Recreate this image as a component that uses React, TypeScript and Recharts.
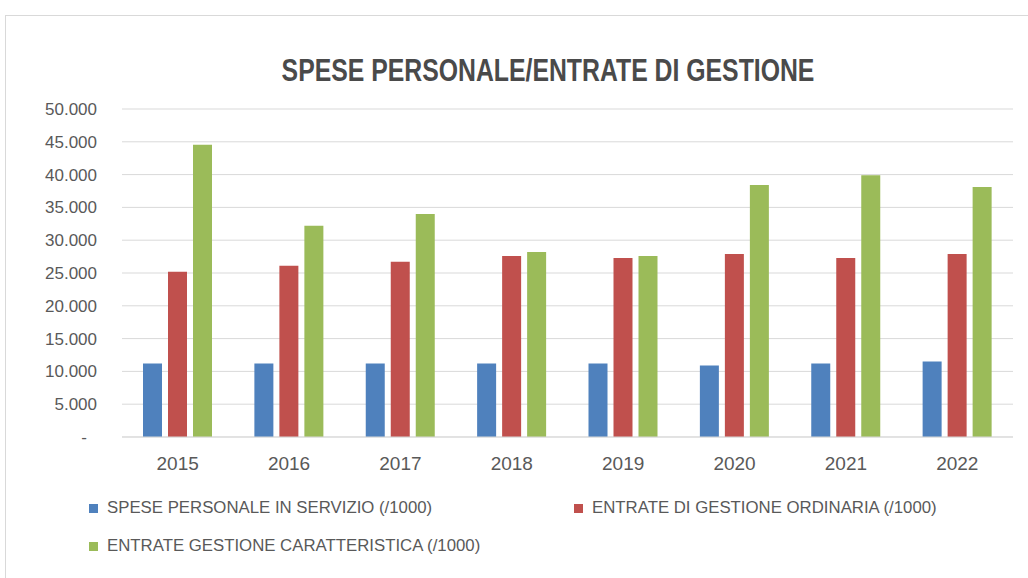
import { BarChart, Bar, XAxis, YAxis, CartesianGrid, Legend } from "recharts";

const years = ["2015", "2016", "2017", "2018", "2019", "2020", "2021", "2022"];
const spesePersonale = [11200, 11200, 11200, 11200, 11200, 10900, 11200, 11500];
const entrateOrdinaria = [25200, 26100, 26700, 27600, 27300, 27900, 27300, 27900];
const entrateCaratteristica = [44550, 32200, 34000, 28200, 27600, 38400, 39900, 38100];
const yTicks = [0, 5000, 10000, 15000, 20000, 25000, 30000, 35000, 40000, 45000, 50000];

const seriesNames = [
  "SPESE PERSONALE IN SERVIZIO (/1000)",
  "ENTRATE DI GESTIONE ORDINARIA (/1000)",
  "ENTRATE GESTIONE CARATTERISTICA (/1000)",
];
const colors = ["#4f81bd", "#c0504d", "#9bbb59"];

const data = years.map((y, i) => ({
  name: y,
  spese: spesePersonale[i],
  ordinaria: entrateOrdinaria[i],
  caratteristica: entrateCaratteristica[i],
}));

const FONT = "'Liberation Sans', Arial, sans-serif";
const TEXT = "#595959";

const fmt = (v: number) => String(v).replace(/\B(?=(\d{3})+(?!\d))/g, ".");

// etichette asse Y in stile contabile: "-" per lo zero
function YTick({ x, y, payload }: any) {
  const zero = payload.value === 0;
  return (
    <text
      x={zero ? x - 10 : x}
      y={y}
      dy="0.35em"
      textAnchor="end"
      fill={TEXT}
      fontSize={17}
      fontFamily={FONT}
    >
      {zero ? "-" : fmt(payload.value)}
    </text>
  );
}

// legenda su due righe
function renderLegend() {
  const pos = [
    { left: 89, top: 21 },
    { left: 574, top: 21 },
    { left: 89, top: 59 },
  ];
  return (
    <div style={{ position: "relative", height: 91 }}>
      {seriesNames.map((n, i) => (
        <div
          key={n}
          style={{
            position: "absolute",
            left: pos[i].left,
            top: pos[i].top,
            transform: "translateY(-50%)",
            display: "flex",
            alignItems: "center",
            whiteSpace: "nowrap",
            fontFamily: FONT,
            fontSize: 16.8,
            color: TEXT,
          }}
        >
          <span
            style={{
              display: "inline-block",
              width: 9,
              height: 9,
              background: colors[i],
              marginRight: 9,
            }}
          />
          {n}
        </div>
      ))}
    </div>
  );
}

export default function App() {
  return (
    <div
      style={{
        position: "absolute",
        left: 0,
        top: 0,
        width: 1028,
        height: 578,
        background: "#fff",
        overflow: "hidden",
      }}
    >
      <div
        style={{
          position: "absolute",
          left: 5,
          top: 15,
          width: 1030,
          height: 570,
          borderTop: "1px solid #d9d9d9",
          borderLeft: "1px solid #d9d9d9",
        }}
      />
      <div
        style={{
          position: "absolute",
          left: 148,
          top: 52,
          width: 800,
          textAlign: "center",
          fontFamily: FONT,
          fontWeight: "bold",
          fontSize: 31,
          lineHeight: "38px",
          color: "#4a4a4a",
          transform: "scaleX(0.8)",
          transformOrigin: "center",
        }}
      >
        SPESE PERSONALE/ENTRATE DI GESTIONE
      </div>
      <div style={{ position: "absolute", left: 0, top: 0 }}>
        <BarChart
          width={1028}
          height={578}
          data={data}
          margin={{ top: 109, right: 15, left: 0, bottom: 0 }}
          barSize={19}
          barGap={6}
        >
          <CartesianGrid vertical={false} stroke="#d9d9d9" />
          <XAxis
            dataKey="name"
            height={50}
            tickLine={false}
            axisLine={{ stroke: "#d9d9d9" }}
            tickMargin={14}
            tick={{ fill: TEXT, fontSize: 19, fontFamily: FONT }}
          />
          <YAxis
            width={122}
            domain={[0, 50000]}
            ticks={yTicks}
            interval={0}
            axisLine={false}
            tickLine={false}
            tickMargin={19}
            tick={<YTick />}
          />
          <Legend verticalAlign="bottom" content={renderLegend} />
          <Bar dataKey="spese" name={seriesNames[0]} fill={colors[0]} isAnimationActive={false} />
          <Bar dataKey="ordinaria" name={seriesNames[1]} fill={colors[1]} isAnimationActive={false} />
          <Bar dataKey="caratteristica" name={seriesNames[2]} fill={colors[2]} isAnimationActive={false} />
        </BarChart>
      </div>
    </div>
  );
}
